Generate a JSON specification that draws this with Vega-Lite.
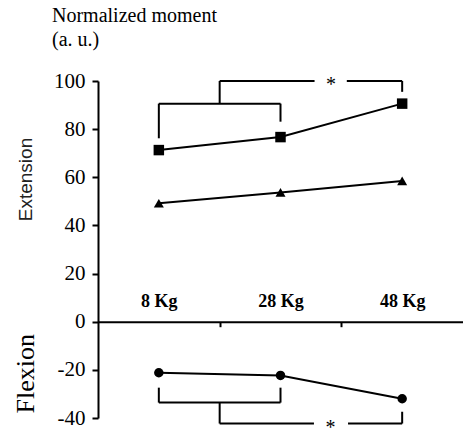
{
  "$schema": "https://vega.github.io/schema/vega-lite/v6.json",
  "width": 365,
  "height": 337,
  "autosize": {"type": "none"},
  "padding": {"left": 98, "top": 81, "right": 0, "bottom": 14},
  "background": "white",
  "config": {"view": {"stroke": null}, "axis": {"grid": false}},
  "title": {
    "text": ["Normalized moment", " (a. u.)"],
    "anchor": "start",
    "frame": "group",
    "dx": -46,
    "offset": 20,
    "font": "Liberation Serif",
    "fontSize": 20,
    "fontWeight": "normal",
    "color": "black",
    "lineHeight": 24
  },
  "datasets": {
    "series": [
      {"load": 8, "moment": 71.3, "series": "Extension A"},
      {"load": 28, "moment": 76.7, "series": "Extension A"},
      {"load": 48, "moment": 90.6, "series": "Extension A"},
      {"load": 8, "moment": 49.2, "series": "Extension B"},
      {"load": 28, "moment": 53.7, "series": "Extension B"},
      {"load": 48, "moment": 58.5, "series": "Extension B"},
      {"load": 8, "moment": -21.2, "series": "Flexion"},
      {"load": 28, "moment": -22.3, "series": "Flexion"},
      {"load": 48, "moment": -32.0, "series": "Flexion"}
    ],
    "brackets": [
      {"load": 8, "load2": 8, "moment": 76.2, "moment2": 90.6},
      {"load": 8, "load2": 28, "moment": 90.6, "moment2": 90.6},
      {"load": 28, "load2": 28, "moment": 83.1, "moment2": 90.6},
      {"load": 18, "load2": 18, "moment": 90.6, "moment2": 100},
      {"load": 18, "load2": 33.6, "moment": 100, "moment2": 100},
      {"load": 38.9, "load2": 48, "moment": 100, "moment2": 100},
      {"load": 48, "load2": 48, "moment": 95.5, "moment2": 100},
      {"load": 8, "load2": 8, "moment": -27.4, "moment2": -33.6},
      {"load": 8, "load2": 28, "moment": -33.6, "moment2": -33.6},
      {"load": 28, "load2": 28, "moment": -27.4, "moment2": -33.6},
      {"load": 18, "load2": 18, "moment": -33.6, "moment2": -42.3},
      {"load": 18, "load2": 33.5, "moment": -42.3, "moment2": -42.3},
      {"load": 39.1, "load2": 48, "moment": -42.3, "moment2": -42.3},
      {"load": 48, "load2": 48, "moment": -37.4, "moment2": -42.3}
    ],
    "stars": [
      {"load": 36.3, "moment": 100, "label": "*"},
      {"load": 36.2, "moment": -42.3, "label": "*"}
    ]
  },
  "encoding": {
    "x": {
      "field": "load", "type": "quantitative",
      "scale": {"domain": [-2, 58], "nice": false, "zero": false},
      "axis": {
        "orient": "bottom",
        "offset": -96.3,
        "values": [8, 18, 28, 38, 48],
        "labelExpr": "datum.value % 20 == 8 ? datum.value + ' Kg' : ''",
        "tickOpacity": {"condition": {"test": "datum.value % 20 == 8", "value": 0}, "value": 1},
        "tickSize": 5,
        "tickWidth": 2,
        "tickColor": "black",
        "domainColor": "black",
        "domainWidth": 2,
        "labelFont": "Liberation Serif",
        "labelFontSize": 18,
        "labelFontWeight": "bold",
        "labelColor": "black",
        "labelBaseline": "alphabetic",
        "labelPadding": -20,
        "labelFlush": false,
        "labelOverlap": false,
        "title": "Flexion",
        "titleFont": "Liberation Serif",
        "titleFontSize": 26,
        "titleFontWeight": "normal",
        "titleColor": "black",
        "titleAngle": -90,
        "titleX": -73,
        "titleY": 51.6,
        "titleAlign": "center",
        "titleBaseline": "middle"
      }
    },
    "y": {
      "field": "moment", "type": "quantitative",
      "scale": {"domain": [-40, 100], "nice": false, "zero": false},
      "axis": {
        "values": [-40, -20, 0, 20, 40, 60, 80, 100],
        "labelExpr": "'' + datum.value",
        "title": "Extension",
        "titleFont": "Liberation Sans",
        "titleFontSize": 19,
        "titleFontWeight": "normal",
        "titleColor": "#222",
        "titleAngle": -90,
        "titleX": -72.5,
        "titleY": 98,
        "titleAlign": "center",
        "titleBaseline": "middle",
        "labelFont": "Liberation Serif",
        "labelFontSize": 21,
        "labelColor": "black",
        "labelPadding": 7,
        "tickSize": 6,
        "tickWidth": 2,
        "tickColor": "black",
        "domainColor": "black",
        "domainWidth": 2,
        "labelFlush": false,
        "labelOverlap": false
      }
    }
  },
  "layer": [
    {
      "data": {"name": "brackets"},
      "mark": {"type": "rule", "color": "black", "strokeWidth": 2},
      "encoding": {
        "x2": {"field": "load2"},
        "y2": {"field": "moment2"}
      }
    },
    {
      "data": {"name": "stars"},
      "mark": {"type": "text", "font": "Liberation Serif", "fontSize": 20, "color": "black", "baseline": "middle", "align": "center", "dy": 4},
      "encoding": {
        "text": {"field": "label"}
      }
    },
    {
      "data": {"name": "series"},
      "mark": {"type": "line", "color": "black", "strokeWidth": 2},
      "encoding": {
        "detail": {"field": "series"}
      }
    },
    {
      "data": {"name": "series"},
      "mark": {"type": "point", "filled": true, "opacity": 1, "color": "black"},
      "encoding": {
        "shape": {"field": "series", "type": "nominal", "scale": {"domain": ["Extension A", "Extension B", "Flexion"], "range": ["square", "triangle-up", "circle"]}, "legend": null},
        "size": {"field": "series", "type": "nominal", "scale": {"domain": ["Extension A", "Extension B", "Flexion"], "range": [110, 90, 64]}, "legend": null}
      }
    }
  ]
}
